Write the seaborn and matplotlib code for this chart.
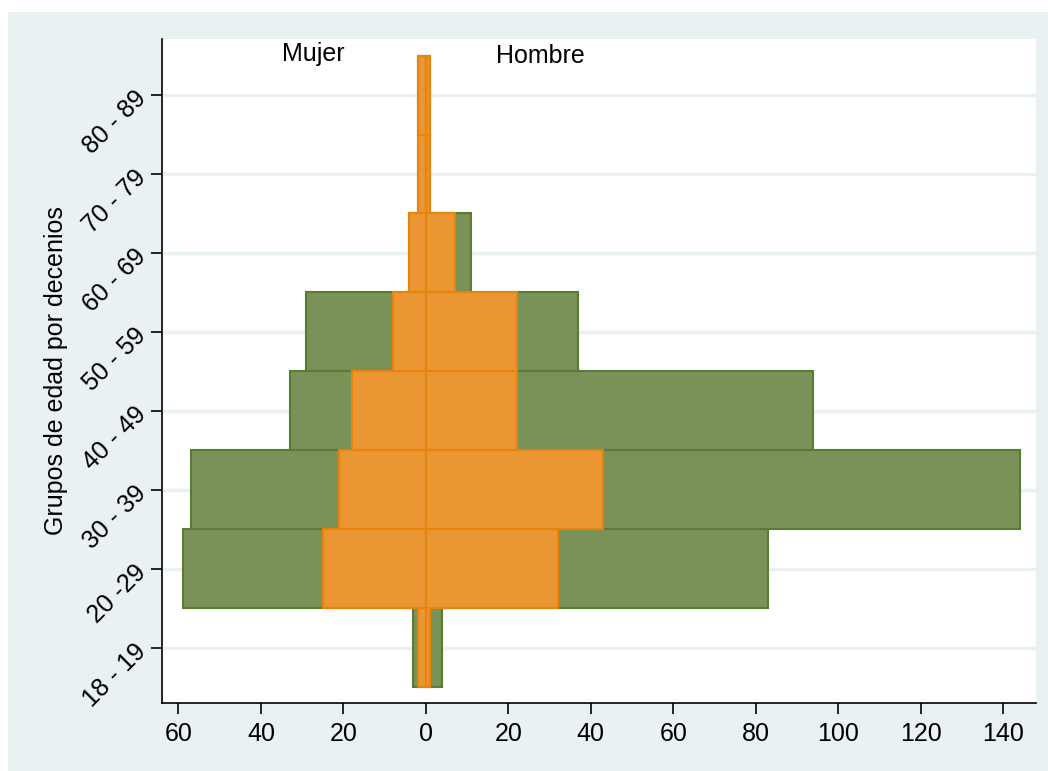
import matplotlib
matplotlib.use('Agg')
from matplotlib import pyplot as plt
from matplotlib.patches import Rectangle
import pandas as pd
import seaborn as sns

# age groups (bottom to top)
grupos = ['18 - 19', '20 -29', '30 - 39', '40 - 49', '50 - 59', '60 - 69', '70 - 79', '80 - 89']
# green bars
mujer_total = [3, 59, 57, 33, 29, 4, 2, 2]
hombre_total = [4, 83, 144, 94, 37, 11, 1, 1]
# orange bars
mujer_sub = [2, 25, 21, 18, 8, 4, 2, 2]
hombre_sub = [1, 32, 43, 22, 22, 7, 1, 1]

verde = '#7a9157'
verde_borde = '#5b7a34'
naranja = '#e99633'
naranja_borde = '#e8830c'
fondo = '#e9f1f3'

df = pd.DataFrame({'grupo': grupos,
                   'mujer_total': [-v for v in mujer_total],
                   'hombre_total': hombre_total,
                   'mujer_sub': [-v for v in mujer_sub],
                   'hombre_sub': hombre_sub})

sns.set_style('white')
plt.rcParams['font.family'] = ['Liberation Sans', 'DejaVu Sans']
plt.rcParams['text.color'] = 'black'
plt.rcParams['axes.labelcolor'] = 'black'

fig = plt.figure(figsize=(10.48, 7.71), dpi=100)
fig.patches.append(Rectangle((8 / 1048, 0), 1, 1 - 12 / 771, transform=fig.transFigure,
                             facecolor=fondo, edgecolor='none', zorder=-10))
ax = fig.add_axes([162 / 1048, 1 - 703 / 771, 874 / 1048, 664 / 771])
ax.set_facecolor('white')

order = grupos[::-1]
for col, fc, ec in [('mujer_total', verde, verde_borde), ('hombre_total', verde, verde_borde),
                    ('mujer_sub', naranja, naranja_borde), ('hombre_sub', naranja, naranja_borde)]:
    sns.barplot(data=df, x=col, y='grupo', order=order, orient='h', width=1.0,
                color=fc, saturation=1, edgecolor=ec, linewidth=1.5, ax=ax, zorder=3)

ax.set_xlim(-64, 148)
ax.set_ylim(7.70, -0.71)
ax.set_xticks(range(-60, 141, 20))
ax.xaxis.set_major_formatter(matplotlib.ticker.FuncFormatter(lambda x, p: format(abs(int(x)))))
ax.set_yticks(range(len(order)))
ax.set_yticklabels(order, rotation=45, ha='right', va='center', rotation_mode='anchor')

# grid lines at each group
for i in range(len(order)):
    ax.axhline(i, color=fondo, lw=2.5, zorder=1)

for s in ['top', 'right']:
    ax.spines[s].set_visible(False)
for s in ['left', 'bottom']:
    ax.spines[s].set_color('black')
    ax.spines[s].set_linewidth(1.2)
ax.tick_params(axis='both', direction='out', length=8, width=1.2, color='black',
               labelsize=18, labelcolor='black', pad=6, left=True, bottom=True)
ax.set_xlabel('')
ax.set_ylabel('Grupos de edad por decenios', fontsize=18, labelpad=8, color='black')

ax.text(-35, -0.525, 'Mujer', fontsize=18, ha='left', va='center', color='black')
ax.text(17.1, -0.494, 'Hombre', fontsize=18, ha='left', va='center', color='black')

fig.savefig('out.png', dpi=100, facecolor='white')
